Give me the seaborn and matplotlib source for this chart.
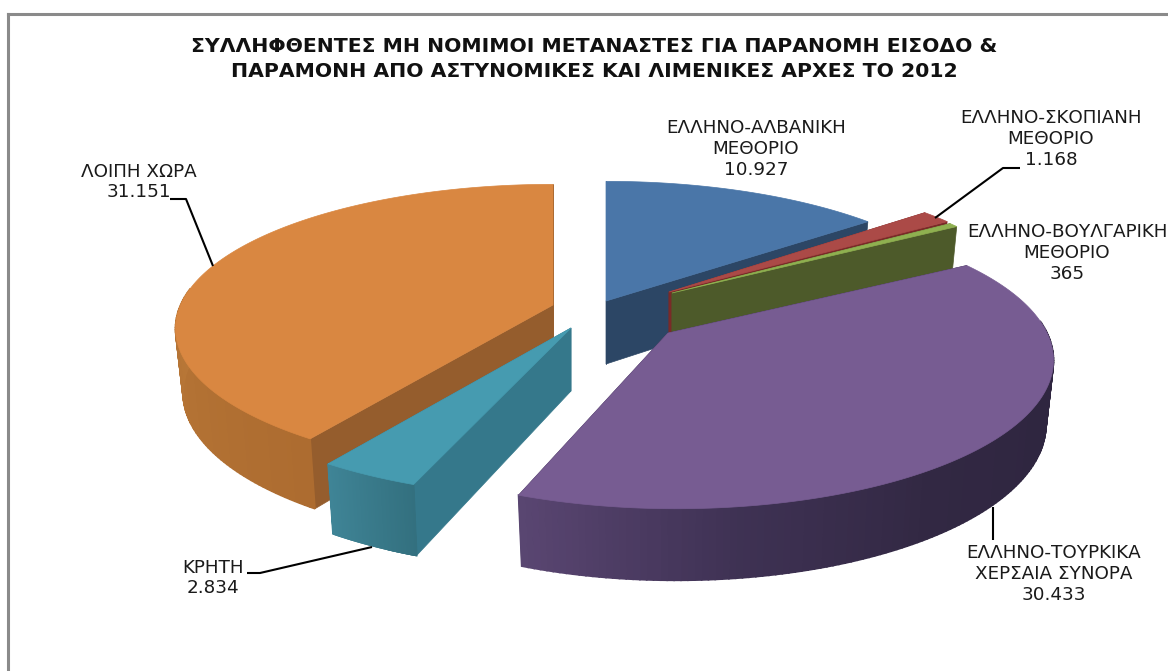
import numpy as np
import matplotlib
matplotlib.use("Agg")
import matplotlib.pyplot as plt
import seaborn as sns

# Data
categories = ["ΕΛΛΗΝΟ-ΑΛΒΑΝΙΚΗ\nΜΕΘΟΡΙΟ", "ΕΛΛΗΝΟ-ΣΚΟΠΙΑΝΗ\nΜΕΘΟΡΙΟ", "ΕΛΛΗΝΟ-ΒΟΥΛΓΑΡΙΚΗ\nΜΕΘΟΡΙΟ",
              "ΕΛΛΗΝΟ-ΤΟΥΡΚΙΚΑ\nΧΕΡΣΑΙΑ ΣΥΝΟΡΑ", "ΚΡΗΤΗ", "ΛΟΙΠΗ ΧΩΡΑ"]
values = [10927, 1168, 365, 30433, 2834, 31151]
value_labels = ["10.927", "1.168", "365", "30.433", "2.834", "31.151"]
title_lines = "ΣΥΛΛΗΦΘΕΝΤΕΣ ΜΗ ΝΟΜΙΜΟΙ ΜΕΤΑΝΑΣΤΕΣ ΓΙΑ ΠΑΡΑΝΟΜΗ ΕΙΣΟΔΟ &\nΠΑΡΑΜΟΝΗ ΑΠΟ ΑΣΤΥΝΟΜΙΚΕΣ ΚΑΙ ΛΙΜΕΝΙΚΕΣ ΑΡΧΕΣ ΤΟ 2012"

# Colours per slice: top, cut face, outer wall (from the clockwise start to end)
top_colors = ["#4a76a8", "#ab4a47", "#8fb050", "#775c92", "#469bb0", "#d98741"]
cut_colors = ["#2c4665", "#7a2a28", "#4d5a2a", "#2f2640", "#35788b", "#955d2d"]
wall_colors = [["#2c4665", "#2c4665"], ["#7a2a28", "#7a2a28"], ["#4d5a2a", "#4d5a2a"],
               ["#2f2640", "#2f2640", "#2f2640", "#322843", "#3f3254", "#5a4672"],
               ["#33707f", "#3f8496"], ["#ad6c30", "#bb7a39", "#c07f3f"]]

# Layout in pixels: tip of each exploded slice, centre of its rim, label places, leader lines
tips = [(606, 301), (669, 292), (672, 293), (668, 333), (571, 328), (553, 305)]
centres = [(606, 301), (663, 292), (666, 294), (676, 335), (571, 329), (553, 304)]
y_scale = [1, 1, 1, 1.03, 1, 1]
draw_order = [5, 4, 0, 1, 2, 3]
label_pos = [(756, 149), (1051, 139), (1067, 253), (1054, 574), (213, 578), (139, 182)]
leaders = [None, [(935, 218), (1003, 168), (1020, 168)], None, [(993, 507), (993, 540)],
           [(372, 547), (260, 573), (247, 573)], [(213, 266), (186, 199), (170, 199)]]
RX, RY, PERSP = 372, 140, 0.17


def project(theta, centre, yscale, lower=False):
    # Tilted disc with perspective, near edge is bigger. Bottom face is a bit narrower.
    s = 1 / (1 + PERSP * np.sin(theta))
    x = RX * np.cos(theta) * s
    y = -RY * yscale * np.sin(theta) * s
    if lower:
        return centre[0] + 0.98 * x, centre[1] + y + 63 + (s - 1) * 42
    return centre[0] + x, centre[1] + y


sns.set_theme(style="white")
plt.rcParams["font.family"] = ["DejaVu Sans"]

fig = plt.figure(figsize=(11.68, 6.71), dpi=100)
ax = fig.add_axes([8 / 1168, 0, 1160 / 1168, (671 - 14) / 671])
ax.set_xlim(8, 1168)
ax.set_ylim(671, 14)
ax.set_xticks([])
ax.set_yticks([])
sns.despine(ax=ax, top=False, right=True, bottom=True)
for side in ["left", "top"]:
    ax.spines[side].set_color("#8a8a8a")
    ax.spines[side].set_linewidth(2.2)

angles = 90 - 360 * np.cumsum([0] + values) / sum(values)

for rank, i in enumerate(draw_order):
    tip = tips[i]
    t = np.radians(np.linspace(angles[i], angles[i + 1], 160))  # clockwise
    tx, ty = project(t, centres[i], y_scale[i])
    bx, by = project(t, centres[i], y_scale[i], lower=True)
    tip_low = (tip[0], tip[1] + 63)

    # Cut faces from the tip to the rim
    ax.fill([tip[0], tx[0], bx[0], tip_low[0]], [tip[1], ty[0], by[0], tip_low[1]],
            color=cut_colors[i], lw=0.5, zorder=rank)
    ax.fill([tip[0], tx[-1], bx[-1], tip_low[0]], [tip[1], ty[-1], by[-1], tip_low[1]],
            color=cut_colors[i], lw=0.5, zorder=rank)

    # Outer wall, one strip at a time for the gradient
    shades = sns.blend_palette(wall_colors[i], len(t))
    for k in range(len(t) - 1):
        if np.sin(t[k]) < 0.1:
            ax.fill([tx[k], tx[k + 1], bx[k + 1], bx[k]], [ty[k], ty[k + 1], by[k + 1], by[k]],
                    color=shades[k], lw=1.2, zorder=rank)

    # Top face
    ax.fill(np.r_[tip[0], tx], np.r_[tip[1], ty], color=top_colors[i], lw=0.5, zorder=rank + 0.5)

ax.text(594, 59, title_lines, ha="center", va="center", fontsize=14.7, fontweight="bold",
        color="#111111", linespacing=1.38)

for i, name in enumerate(categories):
    x, y = label_pos[i]
    ax.text(x, y, name + "\n" + value_labels[i], ha="center", va="center", fontsize=13.2,
            color="#1a1a1a", linespacing=1.2)
    if leaders[i] is not None:
        xs, ys = zip(*leaders[i])
        ax.plot(xs, ys, color="black", lw=1.5, zorder=20, solid_capstyle="butt")

fig.savefig("out.png", dpi=100)
